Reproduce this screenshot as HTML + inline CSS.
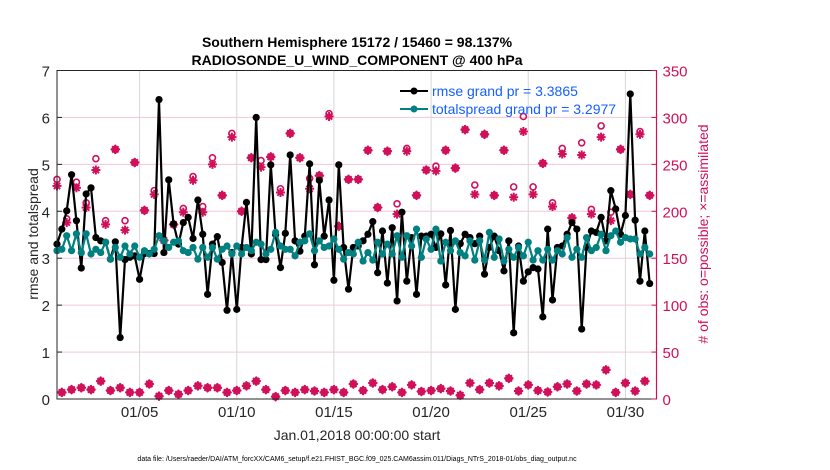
<!DOCTYPE html>
<html><head><meta charset="utf-8"><style>
body{margin:0;background:#fff;}
svg{display:block;font-family:"Liberation Sans",sans-serif;}
</style></head><body>
<svg id="chart" width="830" height="470">
<rect x="0" y="0" width="830" height="470" fill="#fff"/>
<g id="grid"></g>
<g id="marks"></g>
<rect x="57" y="70.5" width="599.5" height="328.5" fill="none" stroke="#262626" stroke-width="1"/>
<g id="axes"></g>
<text x="357" y="47" font-size="14" font-weight="bold" text-anchor="middle" fill="#000">Southern Hemisphere 15172 / 15460 = 98.137%</text>
<text x="357" y="65" font-size="14" font-weight="bold" text-anchor="middle" fill="#000">RADIOSONDE_U_WIND_COMPONENT @ 400 hPa</text>
<text transform="translate(38,234) rotate(-90)" font-size="14" text-anchor="middle" fill="#262626">rmse and totalspread</text>
<text transform="translate(708,234) rotate(-90)" font-size="14" text-anchor="middle" fill="#d0105a"># of obs: o=possible; ×=assimilated</text>
<text x="357" y="440" font-size="14" text-anchor="middle" fill="#262626">Jan.01,2018 00:00:00 start</text>
<text x="357" y="461" font-size="7" text-anchor="middle" fill="#000">data file: /Users/raeder/DAI/ATM_forcXX/CAM6_setup/f.e21.FHIST_BGC.f09_025.CAM6assim.011/Diags_NTrS_2018-01/obs_diag_output.nc</text>
<g>
<line x1="400" y1="91" x2="428" y2="91" stroke="#000" stroke-width="2"/>
<circle cx="414" cy="91" r="3.5" fill="#000"/>
<text x="432" y="96" font-size="14" fill="#1560ff">rmse grand pr = 3.3865</text>
<line x1="400" y1="109" x2="428" y2="109" stroke="#008080" stroke-width="2"/>
<circle cx="414" cy="109" r="3.5" fill="#008080"/>
<text x="432" y="114" font-size="14" fill="#1560ff">totalspread grand pr = 3.2977</text>
</g>
</svg>
<script>
const rmse=[3.30,3.62,4.01,4.78,3.80,2.79,4.37,4.50,3.44,3.37,3.34,2.98,3.35,1.31,2.97,3.02,3.05,2.55,3.10,3.10,3.10,6.38,3.12,4.67,3.73,3.30,3.76,3.87,3.42,4.24,3.51,2.23,3.30,3.46,2.91,1.89,3.12,1.91,3.23,4.19,3.09,6.00,2.97,2.97,4.99,3.50,2.80,3.53,5.20,3.37,3.15,3.47,5.01,2.86,4.66,3.47,4.24,2.53,4.99,3.23,2.34,3.23,3.26,3.37,3.51,3.78,2.69,3.58,2.47,3.65,2.09,3.98,2.51,3.44,2.23,3.47,3.47,3.51,3.23,3.52,2.43,3.59,1.91,3.31,3.51,3.44,3.31,3.47,2.66,3.23,3.47,3.16,2.73,3.37,1.41,3.26,2.51,2.71,2.80,2.77,1.75,3.62,2.11,3.23,3.26,3.51,3.76,3.62,1.49,3.23,3.58,3.55,3.87,3.37,4.44,4.05,3.51,3.91,6.50,3.81,2.51,3.58,2.46];
const spread=[3.16,3.19,3.48,3.16,3.52,3.12,3.52,3.09,3.19,3.12,3.34,2.98,3.23,3.02,3.26,3.09,3.26,3.02,3.16,3.09,3.19,3.48,3.37,3.23,3.34,3.37,3.16,3.12,3.23,2.98,3.23,3.02,3.23,2.98,3.19,3.26,3.09,3.26,3.09,3.23,3.16,3.34,3.30,3.09,3.19,3.55,3.26,3.19,3.19,3.05,3.34,3.37,3.52,3.16,3.37,3.23,3.26,3.41,3.19,2.98,3.12,3.09,3.34,2.94,3.12,2.96,3.34,3.09,3.30,3.09,3.48,3.02,3.48,3.26,3.62,3.02,3.41,3.19,3.62,2.94,3.34,3.16,3.37,3.12,3.05,3.37,2.96,3.37,2.96,3.55,3.02,3.41,2.94,3.19,3.02,3.23,3.05,3.34,2.96,3.16,2.96,3.19,2.96,3.16,3.09,3.44,3.02,3.19,3.02,3.44,3.16,3.23,3.51,3.16,3.48,3.58,3.34,3.44,3.41,3.41,3.09,3.23,3.09];
const assimUpper=[227,188,225,204,244,186,266,180,252,201,218,169,186,199,233,199,250,217,279,200,257,247,258,220,283,257,224,238,301,184,234,234,265,204,264,197,264,217,244,243,265,246,287,218,282,217,265,215,285,218,251,205,261,193,260,197,279,190,266,218,282,217];
const possUpper=[234,192,231,209,256,190,266,190,252,201,222,169,186,203,237,205,257,217,283,200,257,254,258,224,283,257,235,238,304,184,234,234,265,204,264,208,267,218,244,248,267,246,287,228,282,217,265,226,301,226,251,209,267,195,273,202,291,199,266,218,285,217];
const lowerObs=[7,10,12,10,19,9,12,7,7,16,3,9,5,9,14,12,12,7,9,14,19,10,2.5,9,7,10,8.5,7,10,7,16,9,17,10,13,7,15,8,9,11,8.5,4,17,10,17,14,22,8.5,15,9,7.5,13,16,8.5,16,15,31,7,17,8.5,19];
const xTicks=[5,10,15,20,25,30];
const xTickLabels=["01/05","01/10","01/15","01/20","01/25","01/30"];
const yTicks=[0,1,2,3,4,5,6,7];
const y2Ticks=[0,50,100,150,200,250,300,350];

const NS="http://www.w3.org/2000/svg";
const X0=57,X1=656.5,Y0=399,Y1=70.5;
const D0=0.75,D1=31.6;
const xDay=d=>X0+(d-D0)/(D1-D0)*(X1-X0);
const xIdx=i=>xDay(D0+0.25*i);
const yL=v=>Y0-v/7*(Y0-Y1);
const yR=v=>Y0-v/350*(Y0-Y1);
function mk(t,a,p){const e=document.createElementNS(NS,t);for(const k in a)e.setAttribute(k,a[k]);p.appendChild(e);return e;}
const grid=document.getElementById('grid'),marks=document.getElementById('marks'),axes=document.getElementById('axes');

yTicks.forEach(v=>{if(v>0&&v<7){const l=mk('line',{x1:X0,x2:X1,y1:yL(v),y2:yL(v),stroke:'#f3c6d8','stroke-width':1},grid);

}
const t=mk('text',{x:X0-7,y:yL(v)+6,'font-size':15,'text-anchor':'end',fill:'#262626'},axes);t.textContent=v;


const k=mk('line',{x1:X0,x2:X0+5,y1:yL(v),y2:yL(v),stroke:'#262626'},axes);

});
y2Ticks.forEach(v=>{const t=mk('text',{x:X1+6,y:yR(v)+6,'font-size':15,fill:'#d0105a'},axes);t.textContent=v;


const k=mk('line',{x1:X1-5,x2:X1,y1:yR(v),y2:yR(v),stroke:'#d0105a'},axes);

});
const ra=mk('line',{x1:X1,x2:X1,y1:Y1,y2:Y0,stroke:'#d0105a','stroke-width':1.2},axes);


xTicks.forEach((d,j)=>{const x=xDay(d);const l=mk('line',{x1:x,x2:x,y1:Y1,y2:Y0,stroke:'#d6d6d6','stroke-width':1},grid);


const t=mk('text',{x:x,y:417,'font-size':15,'text-anchor':'middle',fill:'#262626'},axes);t.textContent=xTickLabels[j];

});

function star(x,y,p){const g=mk('g',{stroke:'#d0105a','stroke-width':2},p);


const r=4.5;[[r,0],[0,r],[r*.7,r*.7],[r*.7,-r*.7]].forEach(([a,b])=>mk('line',{x1:x-a,y1:y-b,x2:x+a,y2:y+b},g));}
function ring(x,y,p){const c=mk('circle',{cx:x,cy:y,r:3,fill:'none',stroke:'#d0105a','stroke-width':1.6},p);

}
function diamond(x,y,p){const d=mk('polygon',{points:`${x},${y-5} ${x+5},${y} ${x},${y+5} ${x-5},${y}`,fill:'#d0105a'},p);

}
assimUpper.forEach((v,j)=>{const x=xIdx(2*j);const pv=possUpper[j];
if(pv-v>2){ring(x,yR(pv),marks);star(x,yR(v),marks);}else{diamond(x,yR(v),marks);star(x,yR(v),marks);}});
lowerObs.forEach((v,j)=>{const x=xIdx(2*j+1);diamond(x,yR(v),marks);star(x,yR(v),marks);});

function series(arr,col,name){const pts=arr.map((v,i)=>xIdx(i).toFixed(1)+','+yL(v).toFixed(1)).join(' ');
const pl=mk('polyline',{points:pts,fill:'none',stroke:col,'stroke-width':2.2,'stroke-linejoin':'round'},marks);


arr.forEach((v,i)=>{const c=mk('circle',{cx:xIdx(i),cy:yL(v),r:3.6,fill:col},marks);

});}
series(rmse,'#000','rmse');
series(spread,'#008080','spread');
</script>
</body></html>
